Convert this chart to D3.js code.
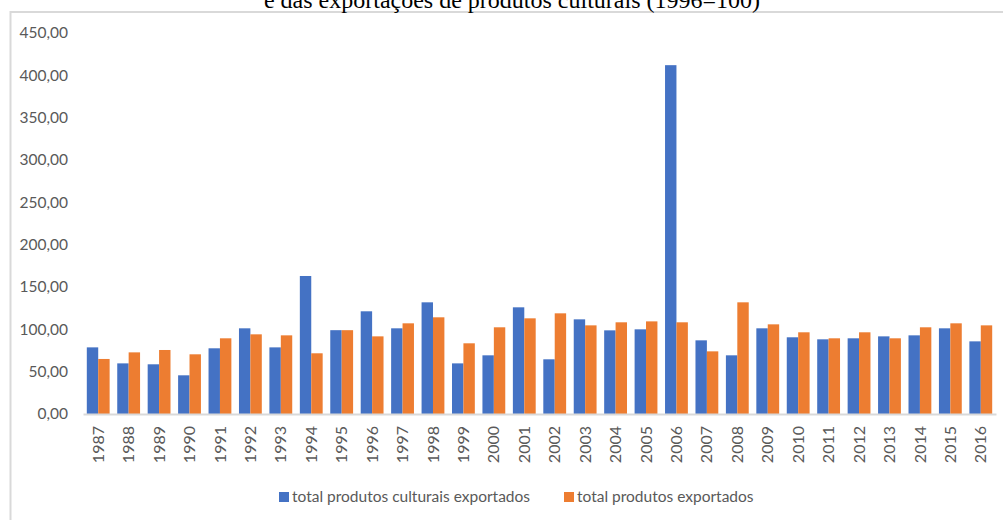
<!DOCTYPE html>
<html>
<head>
<meta charset="UTF-8">
<title>Exportações de produtos culturais</title>
<script src="https://d3js.org/d3.v7.min.js"></script>
<style>
  body { margin: 0; background: #fff; }
  svg { display: block; }
</style>
</head>
<body>
<svg width="1003" height="520"></svg>
<script>
// anos e series (indice, 1996=100)
var years = ["1987","1988","1989","1990","1991","1992","1993","1994","1995","1996",
             "1997","1998","1999","2000","2001","2002","2003","2004","2005","2006",
             "2007","2008","2009","2010","2011","2012","2013","2014","2015","2016"];
var culturais = [78.7, 59.8, 58.7, 45.7, 77.6, 101.2, 78.7, 163.0, 99.0, 121.3,
                 101.2, 131.9, 59.8, 69.3, 126.0, 64.6, 111.8, 98.8, 100.0, 412.0,
                 87.0, 69.3, 101.2, 90.6, 88.2, 89.4, 91.7, 92.9, 101.2, 85.8];
var totais = [65.0, 72.8, 75.6, 70.5, 89.4, 94.1, 92.9, 71.7, 99.0, 91.7,
              107.1, 114.2, 83.5, 102.4, 113.0, 118.9, 104.7, 108.3, 109.4, 108.3,
              74.0, 131.9, 105.9, 96.5, 89.4, 96.5, 89.4, 102.4, 107.1, 104.7];
var yTicks = [0, 50, 100, 150, 200, 250, 300, 350, 400, 450];
var seriesNames = ["total produtos culturais exportados", "total produtos exportados"];
var colors = ["#4472C4", "#ED7D31"];

var svg = d3.select("svg");
var font = "Lato, 'Open Sans', sans-serif";

// moldura do grafico
svg.append("rect")
    .attr("x", 10.5).attr("y", 12)
    .attr("width", 1010).attr("height", 530)
    .attr("fill", "none")
    .attr("stroke", "#d9d9d9")
    .attr("stroke-width", 2);

// titulo (cortado no topo, como no original)
svg.append("text")
    .attr("x", 512).attr("y", 8)
    .attr("text-anchor", "middle")
    .attr("font-family", "'Liberation Serif', 'Times New Roman', serif")
    .attr("font-size", 24)
    .attr("fill", "#000")
    .text("e das exportações de produtos culturais (1996=100)");

var x = d3.scaleBand()
    .domain(years)
    .range([83, 996])
    .paddingInner(0.25)
    .paddingOuter(0.125);

var xs = d3.scaleBand()
    .domain([0, 1])
    .range([0, x.bandwidth()]);

var y = d3.scaleLinear()
    .domain([0, 450])
    .range([414, 33]);

// eixo y (so rotulos)
var fmt = function(d) { return d3.format(".2f")(d).replace(".", ","); };
var gy = svg.append("g")
    .attr("transform", "translate(70,0)")
    .call(d3.axisLeft(y).tickValues(yTicks).tickSize(0).tickPadding(2).tickFormat(fmt));
gy.select(".domain").remove();
gy.selectAll("text")
    .attr("font-family", font)
    .attr("font-size", 15.5)
    .attr("fill", "#595959");

// barras
var groups = svg.append("g").selectAll("g")
    .data(years)
    .enter().append("g")
    .attr("transform", function(d) { return "translate(" + x(d) + ",0)"; });

groups.append("rect")
    .attr("x", xs(0))
    .attr("width", xs.bandwidth())
    .attr("y", function(d, i) { return y(culturais[i]); })
    .attr("height", function(d, i) { return y(0) - y(culturais[i]); })
    .attr("fill", colors[0]);

groups.append("rect")
    .attr("x", xs(1))
    .attr("width", xs.bandwidth())
    .attr("y", function(d, i) { return y(totais[i]); })
    .attr("height", function(d, i) { return y(0) - y(totais[i]); })
    .attr("fill", colors[1]);

// eixo x
var gx = svg.append("g")
    .attr("transform", "translate(0," + y(0) + ")")
    .call(d3.axisBottom(x).tickSize(0).tickPadding(0));
gx.select(".domain")
    .attr("stroke", "#d9d9d9")
    .attr("stroke-width", 2);
gx.selectAll("text")
    .attr("font-family", font)
    .attr("font-size", 16)
    .attr("fill", "#595959")
    .attr("transform", "rotate(-90)")
    .attr("text-anchor", "end")
    .attr("dy", "0.35em")
    .attr("x", -12)
    .attr("y", 0);

// legenda
var legendX = [279, 564];
var legend = svg.append("g").selectAll("g")
    .data(seriesNames)
    .enter().append("g")
    .attr("transform", function(d, i) { return "translate(" + legendX[i] + ",492)"; });
legend.append("rect")
    .attr("width", 10).attr("height", 10)
    .attr("fill", function(d, i) { return colors[i]; });
legend.append("text")
    .attr("x", 13).attr("y", 10)
    .attr("font-family", font)
    .attr("font-size", 15.5)
    .attr("fill", "#595959")
    .text(function(d) { return d; });
</script>
</body>
</html>
